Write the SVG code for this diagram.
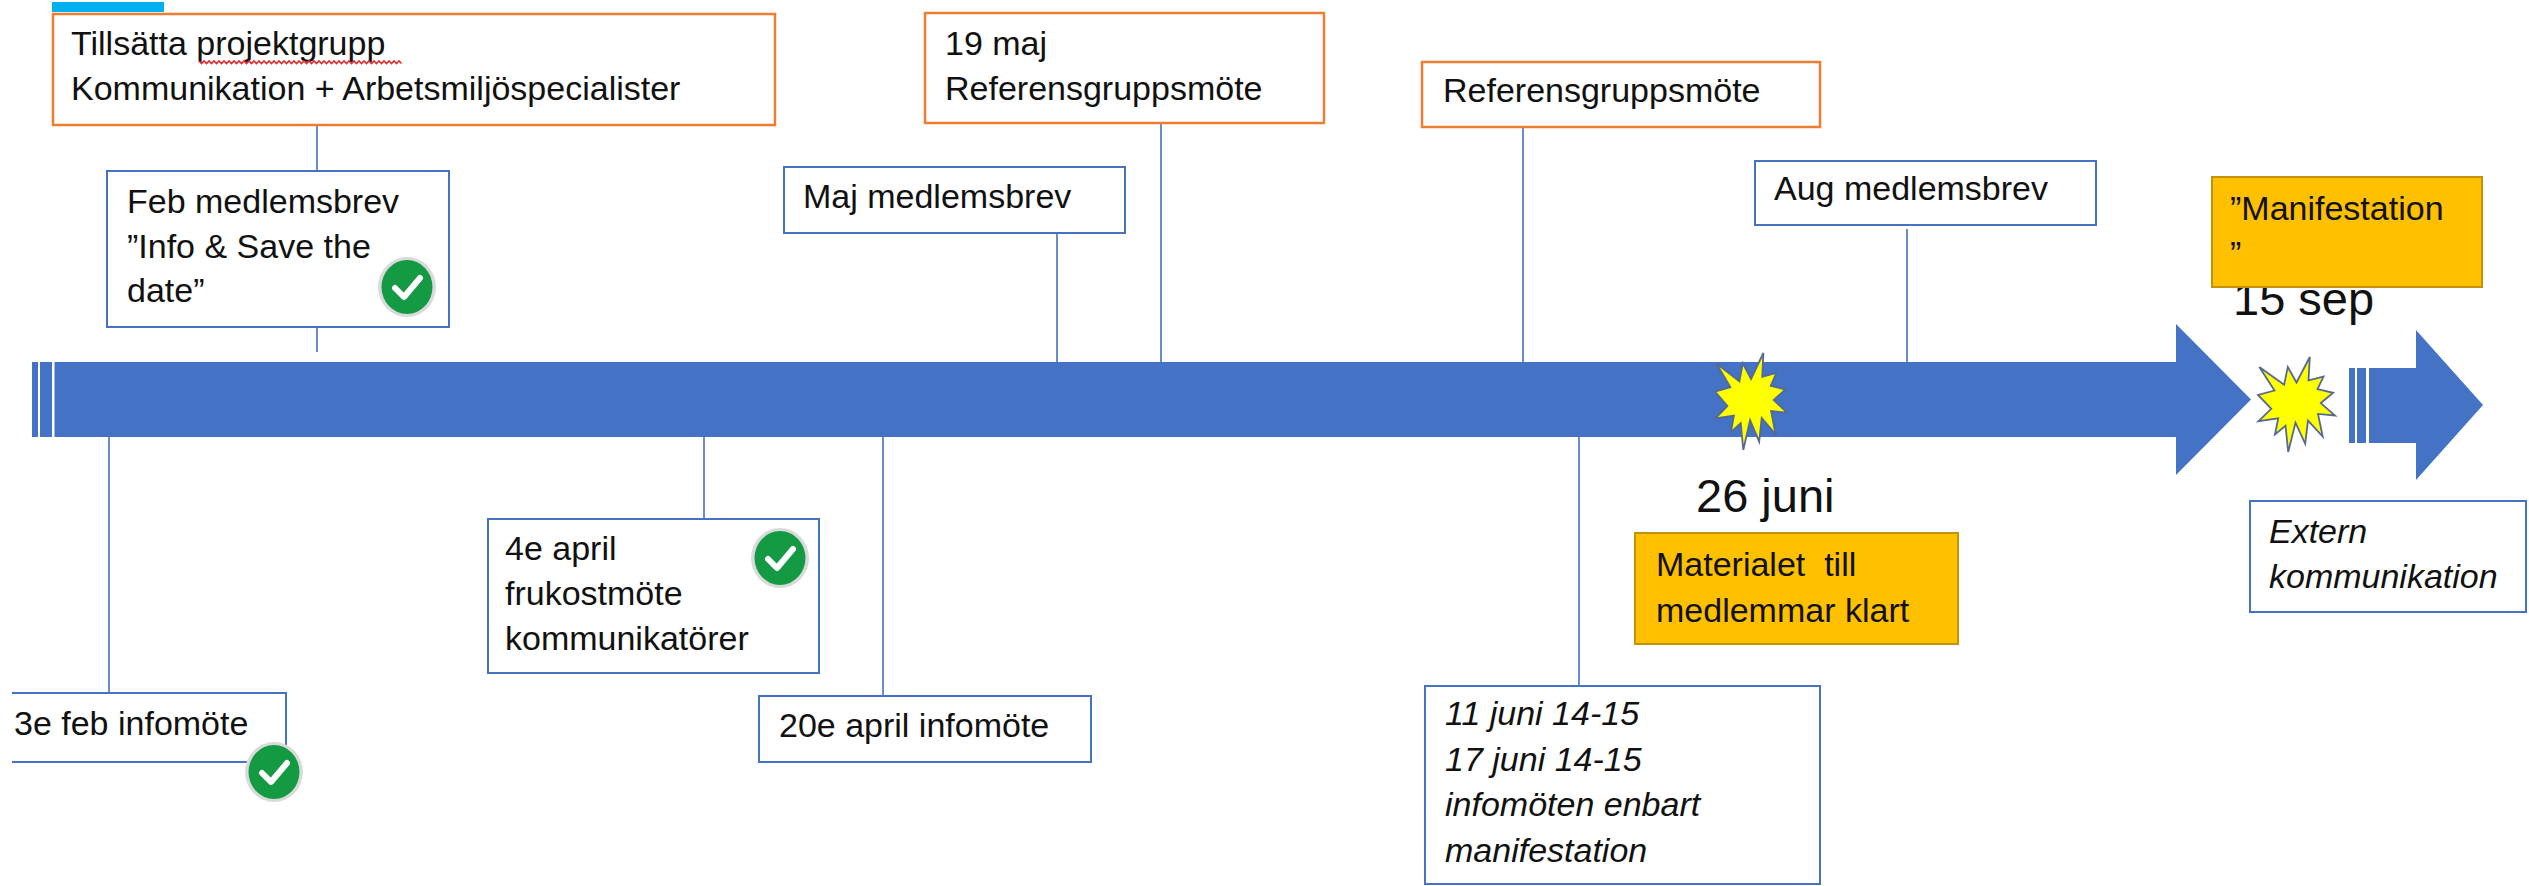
<svg xmlns="http://www.w3.org/2000/svg" width="2529" height="886" viewBox="0 0 2529 886">
<style>
  text { font-family: "Liberation Sans", Arial, sans-serif; font-size: 34px; fill: #111; }
  .it { font-style: italic; }
  .big { font-size: 47px; }
  .bbox { fill: #fff; stroke: #4472C4; stroke-width: 2; }
  .obox { fill: #fff; stroke: #ED7D31; stroke-width: 2.5; }
  .ybox { fill: #FFC000; stroke: #C39206; stroke-width: 2; }
  .conn { stroke: #4472C4; stroke-width: 1.6; fill: none; }
  .arrow { fill: #4472C4; }
  .star { fill: #FFFF00; stroke: #56698F; stroke-width: 1.8; stroke-linejoin: miter; }
  .chk-ring { fill: #DADADA; }
  .chk-bg { fill: #139A43; }
  .chk-mark { fill: none; stroke: #fff; stroke-width: 6; stroke-linecap: round; stroke-linejoin: round; }
  .squiggle { fill: none; stroke: #E02A30; stroke-width: 1.6; }
</style>
<defs>
  <g id="check">
    <ellipse cx="0" cy="0" rx="29" ry="30" class="chk-ring"/>
    <ellipse cx="0" cy="0" rx="25.5" ry="27" class="chk-bg"/>
    <polyline points="-12,1 -3,10 13,-9" class="chk-mark"/>
  </g>
</defs>

<!-- cyan tab -->
<rect x="52" y="2" width="112" height="10" fill="#00B0F0"/>

<!-- timeline -->
<g id="timeline">
  <rect x="32" y="362" width="6" height="75" class="arrow"/>
  <rect x="40" y="362" width="12" height="75" class="arrow"/>
  <polygon points="54.5,362 2176,362 2176,324 2251,399.5 2176,475 2176,437 54.5,437" class="arrow"/>
  <rect x="2349" y="368" width="6" height="75" class="arrow"/>
  <rect x="2357" y="368" width="9" height="75" class="arrow"/>
  <polygon points="2369,368 2416,368 2416,330 2483,405 2416,480 2416,443 2369,443" class="arrow"/>
</g>

<!-- connectors -->
<g id="connectors">
  <line x1="317" y1="125" x2="317" y2="171" class="conn"/>
  <line x1="317" y1="327" x2="317" y2="352" class="conn"/>
  <line x1="109" y1="437" x2="109" y2="693" class="conn"/>
  <line x1="704" y1="437" x2="704" y2="519" class="conn"/>
  <line x1="883" y1="437" x2="883" y2="696" class="conn"/>
  <line x1="1057" y1="233" x2="1057" y2="362" class="conn"/>
  <line x1="1161" y1="123" x2="1161" y2="362" class="conn"/>
  <line x1="1523" y1="127" x2="1523" y2="362" class="conn"/>
  <line x1="1579" y1="437" x2="1579" y2="686" class="conn"/>
  <line x1="1907" y1="229" x2="1907" y2="362" class="conn"/>
</g>

<!-- starbursts -->
<g id="star-26juni">
  <polygon class="star" points="1751,379 1763.4,353 1762.2,376.9 1776.3,373 1770.7,385.9 1785.3,389.5 1773.7,400 1787,412.7 1771.1,411.1 1775.5,434.3 1761.7,417.9 1759.2,441.6 1750.1,420.1 1743.3,450 1740.7,423.2 1730.9,432.1 1733.9,415.6 1715.5,418.5 1727.4,405.9 1715,391.7 1730.4,387.2 1716.2,363.3 1739.4,381.4 1742.8,363.3"/>
</g>
<g id="star-15sep">
  <polygon class="star" points="2296.5,382.5 2309.8,357 2308.5,380.4 2323.5,376.6 2317.5,389.2 2333.2,392.8 2320.8,403.1 2335,415.5 2318,413.9 2322.7,436.6 2308,420.6 2305.2,443.8 2295.5,422.7 2288.2,452 2285.5,425.7 2275,434.5 2278.2,418.3 2258.5,421.2 2271.3,408.8 2258,394.9 2274.5,390.5 2259.3,367.1 2284.1,384.8 2287.8,367.1"/>
</g>

<!-- nodes -->
<g id="node-projektgrupp">
  <rect x="53" y="14" width="722" height="111" class="obox"/>
  <text x="71" y="55">Tillsätta projektgrupp</text>
  <path class="squiggle" d="M199,61 l2.5,2.5 l2.5,-2.5 l2.5,2.5 l2.5,-2.5 l2.5,2.5 l2.5,-2.5 l2.5,2.5 l2.5,-2.5 l2.5,2.5 l2.5,-2.5 l2.5,2.5 l2.5,-2.5 l2.5,2.5 l2.5,-2.5 l2.5,2.5 l2.5,-2.5 l2.5,2.5 l2.5,-2.5 l2.5,2.5 l2.5,-2.5 l2.5,2.5 l2.5,-2.5 l2.5,2.5 l2.5,-2.5 l2.5,2.5 l2.5,-2.5 l2.5,2.5 l2.5,-2.5 l2.5,2.5 l2.5,-2.5 l2.5,2.5 l2.5,-2.5 l2.5,2.5 l2.5,-2.5 l2.5,2.5 l2.5,-2.5 l2.5,2.5 l2.5,-2.5 l2.5,2.5 l2.5,-2.5 l2.5,2.5 l2.5,-2.5 l2.5,2.5 l2.5,-2.5 l2.5,2.5 l2.5,-2.5 l2.5,2.5 l2.5,-2.5 l2.5,2.5 l2.5,-2.5 l2.5,2.5 l2.5,-2.5 l2.5,2.5 l2.5,-2.5 l2.5,2.5 l2.5,-2.5 l2.5,2.5 l2.5,-2.5 l2.5,2.5 l2.5,-2.5 l2.5,2.5 l2.5,-2.5 l2.5,2.5 l2.5,-2.5 l2.5,2.5 l2.5,-2.5 l2.5,2.5 l2.5,-2.5 l2.5,2.5 l2.5,-2.5 l2.5,2.5 l2.5,-2.5 l2.5,2.5 l2.5,-2.5 l2.5,2.5 l2.5,-2.5 l2.5,2.5 l2.5,-2.5 l2.5,2.5 l2.5,-2.5 l2.5,2.5"/>
  <text x="71" y="100">Kommunikation + Arbetsmiljöspecialister</text>
</g>

<g id="node-feb-medlemsbrev">
  <rect x="107" y="171" width="342" height="156" class="bbox"/>
  <text x="127" y="213">Feb medlemsbrev</text>
  <text x="127" y="258">”Info &amp; Save the</text>
  <text x="127" y="302">date”</text>
  <use href="#check" x="407" y="287"/>
</g>

<g id="node-3e-feb">
  <path d="M12,693 H286 V762 H12" class="bbox"/>
  <text x="14" y="735">3e feb infomöte</text>
  <use href="#check" x="274" y="772"/>
</g>

<g id="node-4e-april">
  <rect x="488" y="519" width="331" height="154" class="bbox"/>
  <text x="505" y="560">4e april</text>
  <text x="505" y="605">frukostmöte</text>
  <text x="505" y="650">kommunikatörer</text>
  <use href="#check" x="780" y="558"/>
</g>

<g id="node-20e-april">
  <rect x="759" y="696" width="332" height="66" class="bbox"/>
  <text x="779" y="737">20e april infomöte</text>
</g>

<g id="node-maj-medlemsbrev">
  <rect x="784" y="167" width="341" height="66" class="bbox"/>
  <text x="803" y="208">Maj medlemsbrev</text>
</g>

<g id="node-19-maj">
  <rect x="925" y="13" width="399" height="110" class="obox"/>
  <text x="945" y="55">19 maj</text>
  <text x="945" y="100">Referensgruppsmöte</text>
</g>

<g id="node-referensgruppsmote">
  <rect x="1422" y="62" width="398" height="65" class="obox"/>
  <text x="1443" y="102">Referensgruppsmöte</text>
</g>

<g id="node-aug-medlemsbrev">
  <rect x="1755" y="161" width="341" height="64" class="bbox"/>
  <text x="1774" y="200">Aug medlemsbrev</text>
</g>

<g id="node-juni-infomoten">
  <rect x="1425" y="686" width="395" height="198" class="bbox"/>
  <text x="1445" y="725" class="it">11 juni 14-15</text>
  <text x="1445" y="770.5" class="it">17 juni 14-15</text>
  <text x="1445" y="816" class="it">infomöten enbart</text>
  <text x="1445" y="861.5" class="it">manifestation</text>
</g>

<g id="node-26-juni">
  <text x="1696" y="512" class="big">26 juni</text>
  <rect x="1635" y="533" width="323" height="111" class="ybox"/>
  <text x="1656" y="576" xml:space="preserve">Materialet  till</text>
  <text x="1656" y="622">medlemmar klart</text>
</g>

<g id="node-15-sep">
  <text x="2233" y="315" class="big">15 sep</text>
  <rect x="2212" y="177" width="270" height="110" class="ybox"/>
  <text x="2230" y="220">”Manifestation</text>
  <text x="2230" y="265">”</text>
</g>

<g id="node-extern">
  <rect x="2250" y="501" width="276" height="111" class="bbox"/>
  <text x="2269" y="543" class="it">Extern</text>
  <text x="2269" y="588" class="it">kommunikation</text>
</g>
</svg>
